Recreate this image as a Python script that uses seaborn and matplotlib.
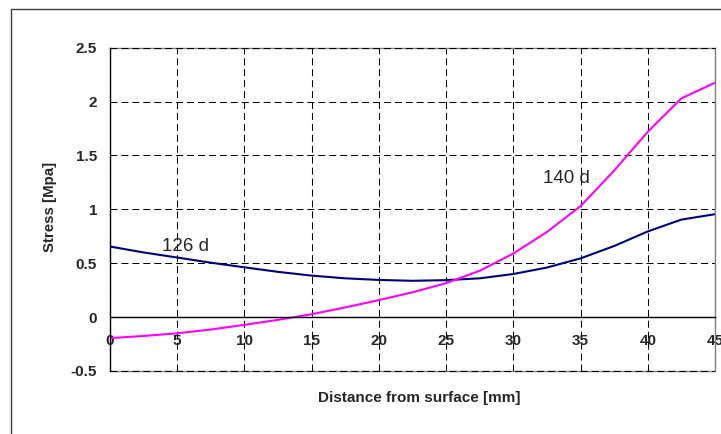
import matplotlib
matplotlib.use("Agg")
import matplotlib.pyplot as plt
from matplotlib.patches import Rectangle
import numpy as np
import pandas as pd
import seaborn as sns

# distance from surface [mm] and stress [MPa] for the two ages
distance = [0, 2.5, 5, 7.5, 10, 12.5, 15, 17.5, 20, 22.5,
            25, 27.5, 30, 32.5, 35, 37.5, 40, 42.5, 45]
stress_126d = [0.655, 0.60, 0.553, 0.505, 0.462, 0.42, 0.385, 0.36, 0.345, 0.337,
               0.343, 0.36, 0.40, 0.46, 0.545, 0.66, 0.795, 0.905, 0.955]
stress_140d = [-0.195, -0.175, -0.15, -0.115, -0.072, -0.025, 0.027, 0.09, 0.158, 0.23,
               0.315, 0.43, 0.59, 0.79, 1.03, 1.36, 1.72, 2.03, 2.175]
series_names = ["126 d", "140 d"]
series_colors = ["#000080", "#FF00FF"]
x_ticks = [0, 5, 10, 15, 20, 25, 30, 35, 40, 45]
y_ticks = [-0.5, 0, 0.5, 1, 1.5, 2, 2.5]

sns.set_style("white")
plt.rcParams["font.family"] = ["Liberation Sans", "DejaVu Sans"]

df = pd.DataFrame({
    "distance": distance * 2,
    "stress": stress_126d + stress_140d,
    "age": [series_names[0]] * len(distance) + [series_names[1]] * len(distance),
})

W, H = 721, 434
fig = plt.figure(figsize=(W / 100, H / 100), dpi=100)
ax = fig.add_axes([110 / W, 1 - 371 / H, 605 / W, (371 - 47.7) / H])

sns.lineplot(data=df, x="distance", y="stress", hue="age", palette=series_colors,
             linewidth=1.5, legend=False, ax=ax, sort=False)

ax.set_xlim(0, 45)
ax.set_ylim(-0.5, 2.5)
ax.set_xticks(x_ticks)
ax.set_yticks(y_ticks)
ax.set_yticklabels([f"{v:g}" for v in y_ticks])

# dashed black grid
dash = (0, (6.7, 3.8))
ax.grid(True, color="black", linestyle=dash, linewidth=0.75)
ax.set_axisbelow(True)

# frame: grey plot area border, solid black value axis, x axis at zero
for side in ["top", "right"]:
    ax.spines[side].set_color("#808080")
    ax.spines[side].set_linewidth(1.0)
ax.spines["left"].set_color("black")
ax.spines["left"].set_linewidth(1.0)
ax.spines["left"].set_zorder(3)
ax.spines["bottom"].set_position(("data", 0))
ax.spines["bottom"].set_color("black")
ax.spines["bottom"].set_linewidth(1.0)
# bottom edge of the plot area: grey border with the dashed grid line on top
ax.axhline(-0.5, color="#808080", linewidth=1.0, zorder=0.5, clip_on=False)
ax.axhline(-0.5, color="black", linestyle=dash, linewidth=0.75, zorder=0.6, clip_on=False)
ax.axhline(2.5, color="black", linestyle=dash, linewidth=0.75, zorder=2.6, clip_on=False)

ax.tick_params(axis="y", direction="out", length=4.3, width=1, pad=5, labelsize=11)
ax.tick_params(axis="x", direction="inout", length=5, width=1, pad=9.5, labelsize=11)
for lbl in ax.get_xticklabels() + ax.get_yticklabels():
    lbl.set_fontweight("bold")

ax.set_xlabel("")
ax.set_ylabel("")
fig.text(50 / W, 1 - 207 / H, "Stress [Mpa]", rotation=90, ha="center", va="center",
         fontsize=10.8, fontweight="bold")
fig.text(419 / W, 1 - 398 / H, "Distance from surface [mm]", ha="center", va="center",
         fontsize=11, fontweight="bold")

ax.text(3.87, 0.614, series_names[0], fontsize=13.5, ha="left", va="baseline")
ax.text(32.2, 1.242, series_names[1], fontsize=13.5, ha="left", va="baseline")

# outer chart border
fig.patches.append(Rectangle((10.5 / W, -0.1), 2, 1 - 9.5 / H + 0.1,
                             transform=fig.transFigure, fill=False,
                             edgecolor="#404040", linewidth=1.0))

fig.savefig("out.png", dpi=100)
